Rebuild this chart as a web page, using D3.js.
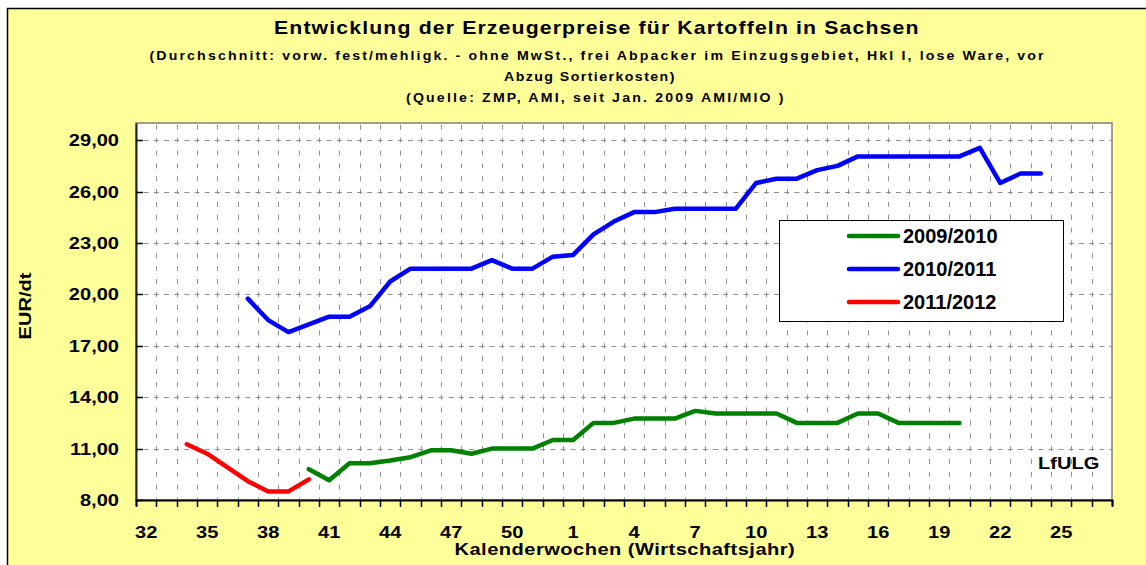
<!DOCTYPE html>
<html><head><meta charset="utf-8">
<script src="https://cdn.jsdelivr.net/npm/d3@7"></script>
<style>html,body{margin:0;padding:0;background:#fff;}svg{display:block;}text{font-family:"Liberation Sans",Arial,sans-serif;font-weight:bold;}</style>
</head><body>
<script>
// ---- data ----
const weeks = ["32","33","34","35","36","37","38","39","40","41","42","43","44","45","46","47","48","49","50","51","52",
  "1","2","3","4","5","6","7","8","9","10","11","12","13","14","15","16","17","18","19","20","21","22","23","24","25","26","27"];
const tickLabels = ["32","35","38","41","44","47","50","1","4","7","10","13","16","19","22","25"];
const yTicks = [8,11,14,17,20,23,26,29];

const weeks0910 = ["40","41","42","43","44","45","46","47","48","49","50","51","52","1","2","3","4","5","6","7","8","9","10","11","12","13","14","15","16","17","18","19","20"];
const values0910 = [9.8,9.15,10.15,10.15,10.3,10.5,10.9,10.9,10.7,11.0,11.0,11.0,11.5,11.5,12.5,12.5,12.75,12.75,12.75,13.2,13.05,13.05,13.05,13.05,12.5,12.5,12.5,13.05,13.05,12.5,12.5,12.5,12.5];

const weeks1011 = ["37","38","39","40","41","42","43","44","45","46","47","48","49","50","51","52","1","2","3","4","5","6","7","8","9","10","11","12","13","14","15","16","17","18","19","20","21","22","23","24"];
const values1011 = [19.75,18.5,17.8,18.25,18.7,18.7,19.3,20.75,21.5,21.5,21.5,21.5,22.0,21.5,21.5,22.2,22.3,23.5,24.25,24.8,24.8,25.0,25.0,25.0,25.0,26.5,26.75,26.75,27.25,27.5,28.05,28.05,28.05,28.05,28.05,28.05,28.55,26.5,27.05,27.05];

const weeks1112 = ["34","35","36","37","38","39","40"];
const values1112 = [11.25,10.7,9.9,9.1,8.5,8.5,9.2];

const seriesNames = ["2009/2010","2010/2011","2011/2012"];
const seriesColors = ["#008000","#0000FF","#FF0000"];

const titleText = "Entwicklung der Erzeugerpreise für Kartoffeln in Sachsen";
const subLines = ["(Durchschnitt: vorw. fest/mehligk. - ohne MwSt., frei Abpacker im Einzugsgebiet, Hkl I, lose Ware, vor",
  "Abzug Sortierkosten)", "(Quelle: ZMP, AMI, seit Jan. 2009 AMI/MIO )"];

// ---- layout ----
const W = 1146, H = 565;
const L = 136, R = 1112, T = 123, B = 500;
const svg = d3.select("body").append("svg").attr("width", W).attr("height", H);

svg.append("rect").attr("x",7.5).attr("y",8.5).attr("width",W).attr("height",H)
  .attr("fill","#FFFF99").attr("stroke","#000").attr("stroke-width",1.5);

const x = d3.scaleBand().domain(weeks).range([L,R]).padding(0);
const y = d3.scaleLinear().domain([8,30]).range([B,T]);

svg.append("rect").attr("x",L).attr("y",T).attr("width",R-L).attr("height",B-T)
  .attr("fill","#fff").attr("stroke","#808080").attr("stroke-width",1.5);

const SX = 1.18;
function stext(g, tx, ty, str, size, anchor, sx){
  return g.append("text").attr("transform",`translate(${tx},${ty}) scale(${sx},1)`)
    .attr("text-anchor",anchor).attr("font-size",size).attr("fill","#000").text(str);
}
// centered text fitted to a target width: horizontal scale SX plus letter spacing
function ftext(g, cx, ty, str, size, target){
  const t = g.append("text").attr("text-anchor","start").attr("font-size",size).text(str);
  const nat = t.node().getComputedTextLength();
  const n = str.length;
  let ls = (target/SX - nat)/(n);
  if (ls < 0) ls = 0;
  t.attr("letter-spacing", ls);
  const w2 = (nat + ls*n)*SX;
  t.attr("transform",`translate(${cx - w2/2},${ty}) scale(${SX},1)`);
  return t;
}

// grid
const bw = x.bandwidth();
const gGrid = svg.append("g");
weeks.forEach((w,i)=>{ if(i===0) return;
  const xx = Math.round(x(w))+0.5;
  gGrid.append("line").attr("x1",xx).attr("x2",xx).attr("y1",B).attr("y2",T)
    .attr("stroke","#909090").attr("stroke-width",1)
    .attr("stroke-dasharray",`5,${(y(8)-y(11))/4-5}`).attr("stroke-dashoffset",2.5);
});
yTicks.forEach(v=>{ if(v===8) return;
  const yy = Math.round(y(v))+0.5;
  gGrid.append("line").attr("x1",L).attr("x2",R).attr("y1",yy).attr("y2",yy)
    .attr("stroke","#909090").attr("stroke-width",1)
    .attr("stroke-dasharray",`5,${bw/2-5}`).attr("stroke-dashoffset",2.5);
});

// axes
const xAxis = d3.axisBottom(x).tickSize(6).tickFormat("");
const gx = svg.append("g").attr("transform",`translate(0,${B})`).call(xAxis);
gx.selectAll(".tick").remove();
const boundaries = weeks.map(w=>x(w)).concat([R]);
gx.selectAll("line.b").data(boundaries).join("line").attr("class","b")
  .attr("x1",d=>Math.round(d)+0.5).attr("x2",d=>Math.round(d)+0.5).attr("y1",0).attr("y2",7)
  .attr("stroke","#000").attr("stroke-width",1.5);
gx.select(".domain").attr("stroke","#000").attr("stroke-width",2);
tickLabels.forEach(t=>{ stext(svg, x(t)+bw/2, 538, t, 17, "middle", SX); });

const yAxis = d3.axisLeft(y).tickValues(yTicks).tickSize(0).tickFormat("");
const gy = svg.append("g").attr("transform",`translate(${L},0)`).call(yAxis);
gy.select(".domain").attr("stroke","#222").attr("stroke-width",2);
gy.selectAll(".tick line").remove();
yTicks.forEach(v=>{
  svg.append("line").attr("x1",L).attr("x2",L+7).attr("y1",Math.round(y(v))+0.5).attr("y2",Math.round(y(v))+0.5)
    .attr("stroke","#000").attr("stroke-width",1.5);
  stext(svg, 119, y(v)+6, d3.format(".2f")(v).replace(".",","), 17, "end", SX);
});

// lines
const line = d3.line().x(d=>x(d[0])+bw/2).y(d=>y(d[1]));
const seriesData = [d3.zip(weeks0910,values0910), d3.zip(weeks1011,values1011), d3.zip(weeks1112,values1112)];
seriesData.forEach((d,i)=>{
  svg.append("path").datum(d).attr("d",line).attr("fill","none").attr("stroke",seriesColors[i])
    .attr("stroke-width",4.5).attr("stroke-linejoin","round").attr("stroke-linecap","round");
});

// legend
const lg = svg.append("g");
lg.append("rect").attr("x",779.5).attr("y",220.5).attr("width",284).attr("height",101)
  .attr("fill","#fff").attr("stroke","#000").attr("stroke-width",1);
seriesNames.forEach((n,i)=>{
  const ly = 236 + i*33;
  lg.append("line").attr("x1",849).attr("x2",898).attr("y1",ly).attr("y2",ly)
    .attr("stroke",seriesColors[i]).attr("stroke-width",4.5).attr("stroke-linecap","round");
  lg.append("text").attr("x",903).attr("y",ly+7).attr("font-size",20).text(n);
});

// titles
ftext(svg, 597, 34, titleText, 18, 646);
ftext(svg, 598, 60, subLines[0], 12, 897);
ftext(svg, 590, 81, subLines[1], 12, 172);
ftext(svg, 596, 102, subLines[2], 12, 380);

// axis titles
ftext(svg, 625, 555, "Kalenderwochen (Wirtschaftsjahr)", 17, 341);
svg.append("text").attr("transform",`translate(31,306) rotate(-90) scale(${SX},1)`)
  .attr("text-anchor","middle").attr("font-size",17).text("EUR/dt");
stext(svg, 1038, 469, "LfULG", 17, "start", SX);
</script>
</body></html>
